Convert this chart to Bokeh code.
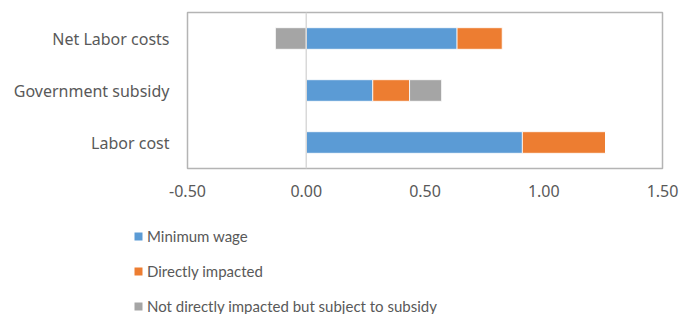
from bokeh.plotting import figure
from bokeh.layouts import column, row
from bokeh.models import (FactorRange, Range1d, FixedTicker, NumeralTickFormatter, Span, Legend,
                          LegendItem, ColumnDataSource)
from bokeh.embed import file_html
from bokeh.resources import INLINE

categories = ["Labor cost", "Government subsidy", "Net Labor costs"]
minimum_wage = [0.91, 0.28, 0.635]
directly_impacted = [0.35, 0.155, 0.19]
not_directly = [0.0, 0.135, -0.13]
series_names = ["Minimum wage", "Directly impacted", "Not directly impacted but subject to subsidy"]
colors = ["#5B9BD5", "#ED7D31", "#A5A5A5"]
x_ticks = [-0.5, 0.0, 0.5, 1.0, 1.5]

FONT = "Noto Sans"
LFONT = "Lato"
TXT = "#595959"
FS = "16px"

p = figure(width=681, height=212, y_range=FactorRange(factors=categories),
           x_range=Range1d(-0.5, 1.5), output_backend="svg", toolbar_location=None,
           min_border_left=187, min_border_right=19, min_border_top=12, min_border_bottom=44)

# stack positives and negatives separately (as Excel does)
series = [minimum_wage, directly_impacted, not_directly]
pos_base = [0.0] * len(categories)
neg_base = [0.0] * len(categories)
sources = []
for name, vals, col in zip(series_names, series, colors):
    left, right = [], []
    for i, v in enumerate(vals):
        if v >= 0:
            left.append(pos_base[i]); right.append(pos_base[i] + v); pos_base[i] += v
        else:
            right.append(neg_base[i]); left.append(neg_base[i] + v); neg_base[i] += v
    src = ColumnDataSource(dict(y=categories, left=left, right=right))
    sources.append(src)
    p.hbar(y="y", left="left", right="right", height=0.415, source=src,
           fill_color=col, line_color="white", line_width=0.8)

p.add_layout(Span(location=0, dimension="height", line_color="#D9D9D9", line_width=1.5))

p.xgrid.grid_line_color = None
p.ygrid.grid_line_color = None
p.outline_line_color = "#B4B4B4"
p.outline_line_width = 1.5

p.xaxis.ticker = FixedTicker(ticks=x_ticks)
p.xaxis.formatter = NumeralTickFormatter(format="0.00")
for ax in (p.xaxis, p.yaxis):
    ax.axis_line_color = None
    ax.major_tick_line_color = None
    ax.minor_tick_line_color = None
    ax.major_label_text_font = FONT
    ax.major_label_text_font_size = FS
    ax.major_label_text_color = TXT
p.xaxis.major_label_standoff = 10
p.yaxis.major_label_standoff = 12

# legend panel below the chart: key renderers share the data, but have zero
# height and lie outside this panel's x range, so only the legend shows
q = figure(width=681, height=102, x_range=Range1d(20, 21), y_range=FactorRange(factors=categories),
           output_backend="svg", toolbar_location=None,
           x_axis_location=None, y_axis_location=None,
           min_border_left=0, min_border_right=0, min_border_top=0, min_border_bottom=0)
q.outline_line_color = None
q.xgrid.grid_line_color = None
q.ygrid.grid_line_color = None
key_renderers = []
for src, col in zip(sources, colors):
    kr = q.hbar(y="y", left="left", right="right", height=0, source=src,
                fill_color=col, line_color=None)
    key_renderers.append(kr)

legend = Legend(items=[LegendItem(label=n, renderers=[r]) for n, r in zip(series_names, key_renderers)],
                location=(133, -2), orientation="vertical",
                glyph_width=10, glyph_height=10, label_height=20, label_standoff=4,
                spacing=15, padding=0, margin=0,
                border_line_color=None, background_fill_alpha=0,
                label_text_font=LFONT, label_text_font_size="15px", label_text_color=TXT)
q.add_layout(legend, "center")

open("out.html", "w").write(file_html(column(p, row(q), spacing=0), INLINE))
